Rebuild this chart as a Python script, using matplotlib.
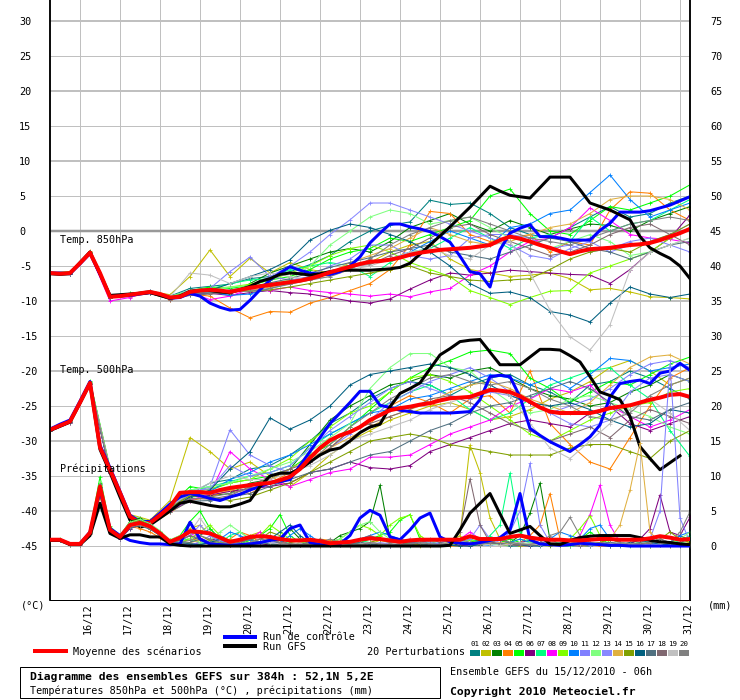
import matplotlib
matplotlib.use('Agg')
import matplotlib.pyplot as plt
from matplotlib.patches import Rectangle
import numpy as np

plt.rcParams['font.family'] = ['DejaVu Sans Mono', 'DejaVu Sans']

# heures depuis le 15/12/2010 06h
heures6 = np.arange(0, 385, 6)     # moyenne, controle, GFS, precip
heures12 = np.arange(0, 385, 12)   # temperatures des perturbations

jours = ['16/12', '17/12', '18/12', '19/12', '20/12', '21/12', '22/12', '23/12',
         '24/12', '25/12', '26/12', '27/12', '28/12', '29/12', '30/12', '31/12']
heures_jours = [18 + 24 * k for k in range(16)]

couleurs = ['#008080', '#c0c000', '#008000', '#ff8000', '#00ff00', '#800080', '#00ff80',
            '#ff00ff', '#80ff00', '#0080ff', '#8080ff', '#80ff80', '#8888ff', '#e0b040',
            '#80a000', '#006080', '#507080', '#806870', '#c0c0c0', '#808080']

# ---- moyenne / controle / GFS (pas de 6h) ----
moy850 = [-6.0, -6.1, -6.0, -4.6, -3.1, -6.0, -9.4, -9.3, -9.1, -8.9, -8.7, -9.0, -9.5,
          -9.4, -8.7, -8.5, -8.4, -8.5, -8.7, -8.4, -8.1, -7.9, -7.7, -7.5, -7.3, -7.1,
          -6.8, -6.4, -5.9, -5.5, -5.1, -4.7, -4.4, -4.3, -4.1, -3.8, -3.4, -3.1, -2.9,
          -2.7, -2.6, -2.5, -2.4, -2.2, -2.0, -1.3, -0.8, -1.1, -1.5, -2.0, -2.4, -2.9,
          -3.3, -2.9, -2.6, -2.5, -2.4, -2.2, -2.0, -1.9, -1.7, -1.3, -0.8, -0.3, 0.3]
gfs850 = [-6.1, -6.2, -6.1, -4.5, -3.0, -6.1, -9.2, -9.1, -9.0, -8.9, -8.8, -9.2, -9.6,
          -9.3, -8.6, -8.5, -8.5, -8.7, -8.8, -8.4, -7.9, -7.2, -6.8, -6.2, -6.0, -6.1,
          -6.3, -6.1, -5.8, -5.6, -5.6, -5.6, -5.6, -5.5, -5.4, -5.2, -4.6, -3.3, -2.0,
          -0.7, 0.6, 2.0, 3.4, 4.9, 6.4, 5.7, 5.1, 4.9, 4.7, 6.2, 7.7, 7.7,
          7.7, 5.9, 4.0, 3.5, 3.0, 2.3, 1.6, -0.8, -2.4, -3.2, -3.9, -5.0, -6.8]
ctl850 = [-6.0, -6.0, -6.1, -4.7, -3.2, -6.2, -9.3, -9.3, -9.2, -9.0, -8.8, -9.1, -9.6,
          -9.5, -8.9, -9.3, -10.3, -10.9, -11.3, -11.2, -9.9, -8.4, -7.0, -6.0, -5.1, -5.6,
          -6.0, -6.2, -6.2, -5.8, -5.0, -3.7, -1.7, -0.3, 1.0, 1.0, 0.6, 0.3, -0.1,
          -0.8, -1.6, -3.6, -5.8, -6.1, -8.0, -2.7, -0.3, 0.4, 0.9, -0.8, -0.8, -1.0,
          -1.3, -1.3, -1.3, 0.1, 1.1, 2.7, 2.7, 2.7, 2.9, 3.3, 3.7, 4.3, 4.9]

moy500 = [-28.4, -27.8, -27.2, -24.5, -21.7, -30.9, -34.1, -37.4, -40.8, -41.7, -41.7, -40.6, -39.4,
          -37.4, -37.3, -37.3, -37.4, -37.0, -36.7, -36.5, -36.3, -36.1, -36.0, -35.6, -35.1, -34.0,
          -32.4, -31.0, -29.9, -29.2, -28.7, -28.0, -27.0, -26.3, -25.6, -25.3, -25.1, -24.8, -24.6,
          -24.2, -23.9, -23.8, -23.7, -23.2, -22.7, -22.8, -23.0, -23.6, -24.4, -25.2, -25.8, -26.0,
          -26.0, -26.0, -26.0, -25.7, -25.3, -25.1, -24.9, -24.5, -24.1, -23.8, -23.4, -23.3, -23.7]
gfs500 = [-28.5, -27.9, -27.3, -24.6, -21.8, -31.2, -34.5, -38.0, -41.3, -42.3, -42.0, -41.0, -40.0,
          -38.9, -38.6, -38.9, -39.2, -39.4, -39.4, -39.0, -38.5, -36.5, -35.0, -34.6, -34.6, -34.0,
          -33.0, -32.0, -31.3, -31.0, -30.0, -28.8, -28.0, -27.6, -25.1, -23.2, -22.5, -21.7, -19.7,
          -17.7, -16.8, -15.8, -15.6, -15.5, -17.3, -19.1, -19.1, -19.1, -18.0, -16.9, -16.9, -17.0,
          -17.8, -18.7, -20.8, -23.0, -23.5, -24.1, -26.5, -30.8, -32.5, -34.1, -33.1, -32.1, np.nan]
ctl500 = [-28.3, -27.6, -27.0, -24.3, -21.5, -30.6, -33.8, -37.2, -40.6, -41.5, -41.5, -40.3, -39.0,
          -38.0, -37.5, -37.8, -38.2, -38.5, -38.0, -37.6, -37.0, -36.5, -36.0, -35.8, -35.5, -33.5,
          -31.5, -29.5, -27.5, -26.0, -24.5, -22.9, -22.9, -24.9, -25.2, -25.6, -25.8, -26.0, -26.0,
          -26.0, -26.0, -25.9, -25.8, -24.1, -20.8, -20.6, -20.8, -23.7, -28.2, -29.2, -30.1, -30.8,
          -31.5, -30.5, -29.4, -27.7, -23.7, -21.8, -21.5, -21.3, -21.8, -20.3, -20.0, -18.9, -19.9]

moyPrec = [0.9, 0.9, 0.3, 0.3, 1.9, 8.5, 2.3, 1.3, 3.0, 3.3, 2.8, 1.8, 0.6,
           1.2, 2.1, 2.0, 1.8, 1.2, 0.6, 0.9, 1.3, 1.4, 1.3, 1.0, 0.8, 0.8,
           0.9, 0.7, 0.4, 0.5, 0.6, 0.9, 1.1, 1.0, 0.8, 0.6, 0.8, 0.9, 0.9,
           0.9, 0.9, 0.9, 1.4, 1.0, 1.0, 1.0, 1.3, 1.5, 1.2, 1.0, 0.9, 0.9,
           0.8, 0.8, 0.9, 1.0, 1.0, 0.9, 0.9, 0.9, 1.1, 1.4, 1.2, 0.9, 1.0]
gfsPrec = [0.8, 0.8, 0.2, 0.2, 1.5, 6.1, 1.8, 1.1, 1.6, 1.6, 1.3, 1.3, 0.3,
           0.1, 0.0, 0.0, 0.0, 0.0, 0.0, 0.0, 0.0, 0.0, 0.0, 0.0, 0.0, 0.0,
           0.0, 0.0, 0.0, 0.0, 0.0, 0.0, 0.0, 0.0, 0.0, 0.0, 0.0, 0.0, 0.0,
           0.0, 0.1, 2.3, 4.7, 6.1, 7.5, 4.6, 1.8, 2.3, 2.8, 1.5, 0.3, 0.2,
           0.8, 1.2, 1.4, 1.5, 1.5, 1.5, 1.5, 1.2, 0.8, 0.6, 0.5, 0.3, 0.2]
ctlPrec = [0.9, 0.9, 0.3, 0.3, 2.0, 8.0, 2.5, 1.5, 0.8, 0.5, 0.3, 0.3, 0.2,
           0.3, 3.4, 1.0, 0.3, 0.2, 0.1, 0.2, 0.3, 0.5, 0.8, 1.0, 2.5, 3.0,
           0.5, 0.2, 0.1, 0.3, 1.5, 4.0, 5.1, 4.4, 1.3, 0.9, 2.3, 4.0, 4.7,
           1.3, 0.6, 0.4, 0.3, 0.5, 0.8, 1.2, 2.3, 7.5, 0.9, 0.3, 0.2, 0.1,
           0.2, 0.4, 0.3, 0.2, 0.1, 0.1, 0.0, 0.0, 0.0, 0.0, 0.0, 0.0, 0.0]

# ---- perturbations 850hPa (pas de 12h) ----
p01_850 = [-6.1, -5.9, -3.3, -9.6, -9.0, -8.5, -9.3, -8.2, -7.9, -7.6, -6.8,
           -6.5, -5.8, -4.8, -3.5, -1.5, 0.0, 0.8, 1.3, 4.4, 3.8, 4.0,
           2.5, 0.5, -0.5, -1.0, 0.5, 2.0, 3.5, 2.0, 2.5, 4.0, 5.0]
p02_850 = [-6.0, -6.2, -3.0, -9.2, -9.3, -8.6, -9.1, -6.5, -2.7, -6.5, -3.9,
           -6.0, -4.5, -5.5, -6.0, -5.0, -4.5, -3.0, -2.0, -1.5, -4.0, -5.5,
           -6.0, -6.5, -6.3, -6.0, -6.8, -8.4, -8.2, -8.7, -9.4, -9.5, -9.7]
p03_850 = [-5.9, -6.1, -3.2, -9.5, -9.2, -8.8, -9.6, -8.9, -8.6, -9.0, -7.5,
           -6.0, -5.0, -4.0, -3.0, -2.5, -3.0, -1.5, 0.5, 1.5, 2.5, 1.0,
           0.0, 1.5, 0.5, -0.5, 0.3, 1.0, 0.8, 0.0, 1.5, 2.5, 3.5]
p04_850 = [-6.2, -6.0, -2.8, -9.2, -9.4, -8.9, -9.8, -9.0, -9.3, -11.0, -12.4,
           -11.5, -11.6, -10.3, -9.5, -8.5, -7.5, -5.5, -2.0, 2.8, 2.5, -0.5,
           -1.5, -1.0, -0.5, -3.0, -1.5, -2.0, 3.0, 5.6, 5.4, 3.0, 1.5]
p05_850 = [-6.0, -5.8, -3.0, -9.3, -8.9, -8.6, -9.4, -8.5, -8.0, -8.2, -7.8,
           -7.0, -6.5, -5.5, -4.0, -3.0, -2.5, -1.0, -1.5, -0.5, 0.5, 1.5,
           5.0, 6.0, 2.5, 0.0, -0.5, 1.5, 3.5, 3.0, 4.0, 5.0, 6.6]
p06_850 = [-6.1, -6.1, -3.2, -9.4, -9.1, -8.8, -9.7, -9.0, -8.9, -9.2, -8.8,
           -8.5, -8.8, -9.0, -9.5, -10.0, -10.3, -9.7, -8.3, -7.0, -6.0, -6.3,
           -6.0, -5.6, -5.8, -6.0, -6.2, -6.3, -7.5, -5.5, -3.0, -1.0, 2.3]
p07_850 = [-5.9, -6.0, -3.1, -9.3, -9.0, -8.7, -9.4, -8.8, -8.3, -7.5, -7.0,
           -6.8, -5.5, -5.0, -4.5, -5.0, -6.5, -4.5, -3.0, -2.5, -1.0, 0.5,
           -1.0, -2.5, -1.0, -0.5, -1.5, 2.0, 0.0, 1.0, 1.5, 3.0, 4.5]
p08_850 = [-6.0, -6.1, -3.3, -10.0, -9.5, -8.6, -9.3, -8.8, -9.8, -9.3, -8.3,
           -8.5, -8.0, -8.5, -8.8, -9.0, -9.3, -9.0, -9.4, -8.7, -8.2, -6.3,
           -5.0, -3.0, -1.5, -1.0, 0.5, 3.3, 1.5, -0.5, -1.0, -1.2, -1.7]
p09_850 = [-6.0, -5.9, -3.0, -9.3, -9.2, -8.9, -9.5, -8.6, -8.2, -8.0, -7.6,
           -7.0, -6.0, -5.0, -3.5, -2.5, -2.0, -3.0, -4.5, -5.5, -6.5, -8.5,
           -9.5, -10.5, -9.5, -8.6, -8.5, -6.0, -5.0, -4.0, -3.0, -1.0, 0.5]
p10_850 = [-6.1, -6.0, -3.1, -9.5, -9.1, -8.7, -9.6, -8.9, -8.7, -9.2, -9.0,
           -8.2, -7.5, -6.5, -5.8, -5.0, -4.3, -4.0, -3.0, -1.5, 0.0, -1.0,
           -2.0, 0.5, 1.0, 2.5, 3.0, 5.5, 8.0, 4.5, 2.0, 3.0, 4.0]
p11_850 = [-6.0, -6.1, -3.0, -9.4, -9.0, -8.7, -9.4, -8.5, -8.2, -5.8, -3.7,
           -6.5, -7.0, -6.5, -5.0, -4.0, -2.0, -2.0, -3.5, -4.0, -3.5, -1.0,
           -0.5, -0.5, -1.0, -2.5, -2.0, -3.0, -2.5, -1.5, -1.0, -2.0, -3.0]
p12_850 = [-5.9, -6.0, -3.0, -9.2, -9.0, -8.6, -9.3, -8.6, -8.4, -8.0, -7.8,
           -7.5, -7.0, -5.0, -2.0, 0.0, 2.0, 3.0, 2.5, 1.0, 1.5, 2.0,
           0.5, -1.0, -1.5, -2.5, -1.5, -0.5, -1.5, -3.5, -3.0, -2.0, -1.0]
p13_850 = [-6.0, -6.0, -3.2, -9.3, -9.1, -8.6, -9.5, -8.7, -8.5, -8.8, -8.0,
           -6.5, -5.0, -3.0, -0.5, 1.6, 4.0, 4.0, 3.0, 2.0, 1.0, 0.0,
           -1.0, -2.0, -3.5, -4.0, -2.5, -1.5, -3.0, -2.0, -1.5, -0.5, 1.0]
p14_850 = [-6.1, -6.0, -3.1, -9.4, -9.2, -8.8, -9.5, -8.8, -8.6, -8.7, -8.5,
           -8.0, -7.5, -7.0, -6.0, -4.5, -3.5, -2.5, -1.0, 0.5, -0.5, -1.5,
           -2.0, -1.5, -0.5, 0.5, 1.0, 2.5, 4.5, 5.0, 5.0, 4.5, 3.0]
p15_850 = [-6.0, -6.0, -3.0, -9.4, -9.1, -8.8, -9.4, -8.7, -8.6, -8.5, -8.6,
           -8.4, -8.0, -7.5, -7.0, -6.5, -6.0, -5.5, -5.0, -6.0, -6.5, -7.0,
           -7.2, -7.0, -6.8, -5.5, -4.0, -3.0, -2.5, -3.0, -1.5, -0.5, 1.0]
p16_850 = [-6.0, -6.1, -3.1, -9.5, -9.1, -8.7, -9.6, -8.8, -8.5, -7.5, -6.5,
           -5.5, -4.1, -1.3, 0.1, 1.0, 0.5, -0.5, -1.5, -3.0, -5.0, -7.5,
           -8.9, -8.7, -9.5, -11.5, -12.0, -13.0, -10.3, -8.0, -9.0, -9.5, -9.0]
p17_850 = [-6.1, -6.0, -3.2, -9.4, -9.2, -8.9, -9.7, -9.1, -8.9, -8.4, -8.0,
           -7.4, -6.8, -6.0, -5.2, -4.5, -3.8, -3.0, -2.5, -2.0, -3.0, -3.5,
           -4.0, -3.0, -2.0, -1.0, -1.5, -2.5, -3.0, -4.0, -3.0, -2.0, -1.5]
p18_850 = [-6.0, -6.1, -3.0, -9.5, -9.3, -8.8, -9.8, -9.2, -9.0, -8.8, -8.2,
           -7.8, -7.2, -6.5, -6.0, -5.0, -4.8, -3.5, -2.5, -1.0, 0.5, 1.0,
           -0.5, -1.5, -2.5, -3.5, -3.0, -2.0, -0.5, 0.5, 1.0, -0.5, -2.0]
p19_850 = [-6.0, -6.0, -3.1, -9.3, -9.1, -8.7, -9.4, -6.0, -6.3, -7.5, -6.5,
           -6.0, -6.5, -7.0, -6.5, -5.5, -5.0, -4.0, -3.0, -2.5, -3.5, -4.0,
           -2.0, -1.5, -6.0, -11.3, -15.1, -17.0, -13.4, -5.6, -3.0, -2.0, -1.0]
p20_850 = [-6.1, -5.9, -3.1, -9.4, -9.0, -8.8, -9.6, -8.9, -8.8, -8.5, -8.6,
           -8.2, -7.6, -7.0, -6.5, -5.5, -4.0, -2.0, -0.5, 0.5, 1.5, 2.0,
           1.0, 0.0, -1.0, -1.5, -2.0, -1.0, 0.0, 1.0, 1.5, 2.0, 1.5]

# ---- perturbations 500hPa (pas de 12h) ----
p01_500 = [-28.5, -27.3, -21.9, -34.5, -41.0, -41.5, -39.0, -37.5, -36.0, -35.5, -34.0,
           -33.5, -32.0, -30.0, -27.5, -26.0, -24.0, -22.5, -21.5, -22.0, -23.5, -22.0,
           -21.0, -20.5, -22.0, -23.0, -24.5, -22.0, -21.5, -20.0, -21.0, -22.5, -24.0]
p02_500 = [-28.4, -27.0, -21.6, -34.0, -40.5, -41.3, -38.5, -29.5, -31.5, -34.0, -33.0,
           -35.0, -36.5, -34.5, -32.0, -30.0, -28.5, -27.0, -26.0, -25.0, -24.5, -25.5,
           -27.0, -26.5, -25.5, -24.0, -23.0, -21.5, -19.5, -18.5, -20.0, -22.0, -21.0]
p03_500 = [-28.2, -27.1, -21.5, -34.2, -40.9, -41.9, -39.8, -38.0, -37.8, -37.5, -36.0,
           -35.5, -34.0, -30.5, -27.0, -25.0, -23.5, -22.0, -21.5, -20.5, -21.0, -20.0,
           -19.5, -21.0, -22.5, -23.5, -24.0, -25.0, -24.5, -23.0, -22.0, -20.5, -21.5]
p04_500 = [-28.5, -27.4, -21.8, -34.4, -41.1, -42.0, -40.2, -38.5, -38.0, -37.0, -37.5,
           -36.0, -34.5, -33.0, -31.0, -28.5, -27.5, -25.0, -23.5, -24.5, -26.0, -24.0,
           -23.5, -26.0, -20.0, -27.5, -30.5, -33.0, -34.0, -29.5, -25.0, -21.0, -19.5]
p05_500 = [-28.3, -27.0, -21.4, -33.8, -40.6, -41.6, -39.2, -36.5, -37.0, -36.0, -35.5,
           -35.0, -34.0, -32.0, -30.5, -28.0, -25.5, -23.0, -21.0, -19.5, -18.5, -17.3,
           -17.0, -17.5, -21.0, -22.5, -24.5, -23.0, -21.5, -22.0, -20.5, -19.0, -18.0]
p06_500 = [-28.5, -27.3, -21.9, -34.3, -41.0, -41.9, -39.7, -37.8, -37.7, -37.2, -36.8,
           -36.5, -36.0, -34.5, -34.0, -33.0, -33.8, -34.0, -33.5, -31.5, -30.5, -29.5,
           -28.5, -27.5, -27.0, -27.5, -28.0, -26.0, -25.0, -27.5, -28.5, -27.5, -26.5]
p07_500 = [-28.4, -27.2, -21.7, -34.1, -40.7, -41.6, -39.3, -37.0, -36.5, -35.8, -35.0,
           -34.5, -33.5, -31.0, -29.0, -27.5, -26.0, -24.5, -23.0, -22.0, -23.5, -25.5,
           -27.0, -26.0, -24.0, -22.0, -21.0, -20.0, -19.5, -22.0, -24.0, -28.5, -32.2]
p08_500 = [-28.6, -27.4, -21.8, -34.5, -41.2, -42.0, -40.0, -38.5, -37.5, -31.5, -34.0,
           -35.5, -36.5, -35.5, -34.5, -34.0, -32.3, -32.3, -32.0, -30.5, -29.0, -28.0,
           -27.0, -25.0, -24.0, -22.5, -23.0, -22.0, -25.0, -26.5, -28.0, -27.0, -25.5]
p09_500 = [-28.3, -27.1, -21.6, -34.0, -40.7, -41.5, -39.5, -37.5, -36.8, -36.0, -35.5,
           -34.0, -32.5, -30.0, -28.0, -26.0, -25.0, -23.0, -21.0, -20.5, -21.5, -23.0,
           -25.0, -27.0, -29.0, -30.0, -28.5, -27.0, -26.0, -25.0, -24.5, -23.0, -22.5]
p10_500 = [-28.4, -27.3, -21.8, -34.2, -40.9, -41.8, -39.6, -37.8, -37.2, -35.5, -34.5,
           -33.0, -32.0, -30.5, -29.0, -27.5, -26.0, -25.5, -24.0, -23.5, -22.5, -21.5,
           -20.5, -21.0, -22.0, -21.0, -22.5, -20.5, -18.2, -18.5, -20.0, -19.5, -19.0]
p11_500 = [-28.5, -27.2, -21.7, -34.3, -41.0, -41.7, -39.5, -37.6, -36.5, -28.4, -32.0,
           -33.5, -34.5, -33.0, -31.0, -29.0, -27.0, -24.5, -23.0, -21.5, -20.5, -19.5,
           -21.0, -23.0, -24.5, -26.0, -25.0, -24.0, -22.5, -20.5, -19.0, -18.5, -19.5]
p12_500 = [-28.3, -27.1, -21.6, -34.0, -40.6, -41.5, -39.1, -37.0, -36.5, -36.0, -35.0,
           -34.0, -33.0, -31.5, -29.5, -27.5, -22.5, -19.5, -17.5, -17.5, -19.5, -20.0,
           -22.5, -24.5, -26.0, -25.5, -24.0, -23.5, -24.5, -25.5, -26.5, -28.0, -29.0]
p13_500 = [-28.4, -27.2, -21.7, -34.1, -40.8, -41.6, -39.4, -37.2, -36.8, -33.5, -35.0,
           -34.5, -33.5, -31.0, -28.5, -26.5, -24.5, -22.5, -21.5, -22.5, -23.5, -24.0,
           -23.0, -23.5, -24.5, -26.0, -27.5, -28.0, -27.0, -23.0, -21.0, -20.5, -21.5]
p14_500 = [-28.5, -27.3, -21.8, -34.2, -41.0, -41.8, -39.7, -37.8, -37.5, -37.0, -36.5,
           -35.5, -34.0, -32.5, -31.0, -29.5, -28.0, -26.5, -25.5, -24.5, -23.0, -22.0,
           -21.5, -22.5, -24.0, -25.0, -26.0, -24.5, -22.0, -19.5, -18.0, -17.7, -19.0]
p15_500 = [-28.4, -27.2, -21.7, -34.2, -40.9, -41.8, -39.5, -37.8, -38.0, -38.5, -38.0,
           -37.0, -36.0, -34.5, -33.0, -31.5, -30.0, -29.5, -29.0, -29.5, -30.5, -31.0,
           -31.5, -32.0, -32.0, -32.0, -31.0, -30.5, -30.5, -31.5, -32.5, -30.0, -28.5]
p16_500 = [-28.5, -27.3, -21.9, -34.4, -41.1, -41.9, -39.8, -38.0, -37.0, -34.0, -31.5,
           -26.7, -28.3, -27.0, -25.0, -22.0, -20.5, -20.0, -19.5, -19.0, -19.5, -20.5,
           -22.0, -23.5, -24.5, -25.0, -24.5, -25.5, -27.0, -28.0, -27.5, -25.5, -26.0]
p17_500 = [-28.6, -27.4, -21.9, -34.5, -41.2, -42.0, -40.1, -38.6, -38.5, -38.0, -37.5,
           -36.5, -35.5, -34.5, -34.0, -33.0, -32.0, -31.5, -30.0, -28.5, -27.5, -26.0,
           -25.0, -24.5, -23.5, -22.5, -21.5, -22.5, -24.5, -26.5, -27.0, -25.5, -24.5]
p18_500 = [-28.4, -27.2, -21.8, -34.1, -40.8, -41.7, -39.6, -38.2, -38.3, -37.8, -36.5,
           -35.0, -34.0, -33.0, -31.0, -28.5, -27.5, -26.5, -25.5, -24.0, -23.5, -24.5,
           -26.0, -27.5, -28.5, -30.0, -29.0, -28.0, -29.5, -27.0, -25.5, -26.5, -27.5]
p19_500 = [-28.3, -27.1, -21.6, -34.0, -40.7, -41.6, -39.3, -37.4, -36.0, -35.0, -35.5,
           -35.5, -34.5, -33.5, -32.0, -30.0, -29.0, -28.0, -27.0, -25.5, -24.5, -23.5,
           -22.5, -23.5, -27.5, -31.0, -32.5, -30.0, -27.5, -25.5, -24.0, -26.0, -28.5]
p20_500 = [-28.5, -27.3, -21.7, -34.3, -41.0, -41.9, -39.8, -38.3, -38.0, -37.5, -36.8,
           -36.0, -35.0, -33.0, -30.5, -28.0, -26.0, -24.0, -22.5, -21.0, -20.5, -21.5,
           -22.0, -21.5, -22.5, -24.0, -25.0, -26.5, -27.0, -26.0, -23.5, -22.0, -21.0]

# ---- perturbations precipitations (pas de 6h) ----
p01_pr = [0.8, 0.9, 0.2, 0.3, 1.8, 7.5, 2.0, 1.0, 2.5, 3.5, 3.0, 2.0, 0.5,
          0.3, 0.5, 1.5, 2.5, 1.0, 0.3, 0.2, 0.5, 1.0, 1.5, 0.8, 0.3, 0.2,
          0.1, 0.2, 0.5, 1.0, 0.5, 0.3, 0.2, 0.1, 0.0, 0.0, 0.2, 0.5, 0.3,
          0.2, 0.1, 0.0, 0.5, 1.0, 0.5, 0.2, 0.0, 0.0, 0.3, 0.5, 0.2, 0.1,
          0.0, 0.1, 0.3, 0.2, 0.0, 0.0, 0.2, 0.5, 0.3, 0.1, 0.0, 0.0, 0.2]
p02_pr = [0.9, 0.8, 0.3, 0.2, 2.0, 8.0, 2.5, 1.2, 3.0, 3.0, 2.5, 1.5, 0.8,
          1.0, 2.5, 3.0, 1.5, 0.5, 0.3, 0.5, 1.5, 2.0, 1.0, 0.5, 0.3, 0.2,
          0.3, 0.5, 0.2, 0.1, 0.0, 0.0, 0.3, 0.8, 0.5, 0.2, 0.1, 0.0, 0.2,
          0.3, 0.5, 1.5, 14.4, 10.5, 4.0, 1.0, 0.2, 0.0, 0.0, 0.3, 0.5, 0.2,
          0.1, 0.0, 0.0, 0.5, 1.0, 0.5, 0.2, 0.0, 0.0, 0.3, 0.2, 0.1, 0.0]
p03_pr = [0.9, 0.9, 0.3, 0.3, 1.9, 9.0, 2.0, 1.5, 3.5, 4.0, 3.0, 1.5, 0.5,
          0.8, 1.5, 1.0, 0.5, 0.3, 0.2, 0.5, 1.0, 0.5, 0.3, 0.5, 2.5, 1.0,
          0.3, 0.2, 0.5, 1.5, 2.0, 2.5, 3.5, 8.7, 1.0, 0.5, 0.3, 0.8, 0.5,
          0.2, 0.1, 0.3, 0.5, 0.8, 0.5, 0.3, 0.5, 1.5, 4.7, 9.0, 0.9, 0.3,
          0.2, 0.1, 0.0, 0.2, 0.5, 0.3, 0.2, 0.1, 0.0, 0.3, 0.5, 1.5, 0.8]
p04_pr = [0.8, 0.8, 0.2, 0.3, 1.7, 7.0, 2.2, 1.2, 2.8, 2.5, 2.0, 1.2, 0.4,
          0.5, 1.0, 0.8, 0.5, 0.3, 1.0, 2.0, 1.5, 0.5, 0.2, 0.1, 0.0, 0.3,
          0.5, 1.0, 0.8, 0.3, 0.2, 0.1, 0.0, 0.2, 0.5, 0.8, 0.5, 0.3, 0.2,
          0.1, 0.0, 0.0, 0.2, 0.5, 0.3, 0.2, 0.1, 0.5, 1.5, 3.0, 7.5, 1.0,
          0.5, 0.3, 0.1, 0.0, 0.0, 0.2, 0.5, 0.3, 0.2, 0.1, 0.0, 0.2, 0.5]
p05_pr = [0.9, 1.0, 0.3, 0.3, 2.2, 9.9, 2.8, 1.5, 3.2, 3.6, 3.0, 2.0, 0.8,
          1.5, 3.5, 5.0, 2.5, 1.0, 0.5, 0.3, 0.8, 1.5, 2.5, 4.5, 1.5, 0.5,
          0.3, 0.2, 0.5, 0.3, 0.2, 0.5, 1.0, 1.5, 2.0, 3.7, 4.5, 1.0, 0.3,
          0.2, 0.5, 0.8, 0.5, 0.3, 0.2, 0.5, 1.0, 0.5, 0.2, 0.1, 0.3, 0.5,
          0.3, 1.0, 2.0, 1.0, 0.3, 0.1, 0.0, 0.2, 0.5, 0.3, 0.2, 0.5, 0.3]
p06_pr = [0.9, 0.9, 0.3, 0.2, 1.8, 8.0, 2.0, 1.0, 2.5, 3.0, 2.5, 1.5, 0.5,
          0.3, 0.2, 0.5, 1.0, 0.8, 0.5, 0.3, 0.2, 0.1, 0.3, 0.5, 0.3, 0.2,
          0.1, 0.0, 0.2, 0.5, 0.3, 0.2, 0.1, 0.0, 0.0, 0.2, 0.5, 0.8, 0.5,
          0.3, 0.2, 0.1, 0.0, 0.2, 0.5, 0.3, 0.2, 0.5, 0.8, 0.5, 0.2, 0.1,
          0.0, 0.2, 0.5, 0.3, 0.2, 0.1, 0.3, 1.0, 2.5, 7.3, 2.0, 1.5, 4.1]
p07_pr = [0.9, 0.9, 0.3, 0.3, 2.0, 8.8, 2.4, 1.4, 3.0, 3.2, 2.9, 1.9, 0.6,
          0.8, 1.0, 0.5, 0.3, 0.5, 1.5, 2.0, 1.0, 0.5, 0.3, 0.2, 0.5, 1.0,
          0.5, 0.3, 0.2, 0.1, 0.3, 0.8, 0.5, 0.3, 0.2, 0.1, 0.0, 0.2, 0.5,
          0.3, 0.2, 0.5, 1.0, 0.5, 1.5, 3.0, 10.4, 2.0, 0.5, 0.3, 0.2, 0.1,
          0.0, 0.1, 0.3, 0.5, 0.3, 0.2, 0.1, 0.0, 0.2, 0.5, 0.3, 0.8, 1.5]
p08_pr = [0.8, 0.9, 0.3, 0.3, 1.9, 8.2, 2.1, 1.3, 3.1, 3.0, 2.6, 1.7, 0.7,
          1.0, 1.8, 1.2, 0.5, 0.3, 0.2, 0.5, 1.0, 2.0, 1.0, 0.5, 0.3, 0.2,
          0.5, 0.3, 0.2, 0.1, 0.0, 0.2, 0.5, 0.3, 0.2, 0.5, 1.0, 0.5, 0.3,
          0.2, 0.3, 1.0, 2.0, 1.0, 0.5, 0.3, 0.2, 0.1, 0.0, 0.2, 0.5, 0.3,
          0.5, 1.5, 4.5, 8.7, 3.0, 0.5, 0.2, 0.1, 0.3, 0.5, 0.3, 0.2, 0.1]
p09_pr = [0.9, 0.8, 0.3, 0.3, 2.0, 8.6, 2.3, 1.4, 3.3, 3.5, 3.0, 2.0, 0.6,
          0.5, 1.0, 2.0, 3.0, 1.5, 0.8, 0.5, 1.0, 1.5, 3.0, 2.0, 1.0, 0.5,
          0.3, 0.2, 0.5, 1.0, 2.0, 3.0, 2.5, 1.5, 3.0, 4.0, 4.4, 1.5, 0.5,
          0.3, 0.2, 0.5, 0.8, 0.5, 0.3, 0.2, 0.5, 1.0, 0.5, 0.3, 0.2, 0.5,
          1.0, 2.5, 4.3, 1.5, 0.5, 0.3, 0.2, 0.5, 0.3, 0.2, 0.5, 1.0, 0.5]
p10_pr = [0.9, 0.9, 0.3, 0.3, 1.9, 8.4, 2.2, 1.3, 2.9, 3.2, 2.7, 1.8, 0.6,
          0.5, 0.3, 0.2, 0.5, 1.0, 2.0, 1.5, 0.8, 0.5, 0.3, 0.5, 1.5, 2.5,
          1.5, 0.5, 0.3, 0.2, 0.5, 1.0, 1.5, 2.0, 1.5, 1.0, 0.5, 0.3, 0.2,
          0.5, 0.8, 0.5, 0.3, 0.2, 0.1, 0.3, 0.5, 1.0, 0.5, 0.3, 1.0, 2.0,
          1.5, 1.0, 2.5, 3.0, 1.0, 0.5, 0.3, 0.2, 0.1, 0.3, 0.5, 1.5, 2.0]
p11_pr = [0.8, 0.9, 0.3, 0.3, 1.8, 7.8, 2.1, 1.1, 2.7, 3.1, 2.6, 1.6, 0.5,
          0.3, 0.2, 0.5, 1.5, 0.8, 0.3, 0.2, 0.1, 0.3, 0.5, 0.3, 0.2, 0.1,
          0.0, 0.2, 0.5, 0.3, 0.2, 0.1, 0.0, 0.2, 0.5, 1.0, 0.5, 0.3, 0.5,
          1.0, 0.5, 0.3, 0.2, 0.1, 0.3, 0.5, 2.0, 5.0, 11.8, 3.0, 0.5, 0.2,
          0.1, 0.0, 0.2, 0.5, 0.3, 0.2, 0.1, 0.3, 1.0, 5.0, 26.0, 4.0, 0.5]
p12_pr = [0.9, 0.8, 0.3, 0.3, 2.1, 9.2, 2.6, 1.6, 3.4, 3.8, 3.2, 2.2, 0.9,
          1.5, 1.0, 0.5, 0.8, 2.0, 3.0, 2.0, 1.0, 0.5, 0.3, 0.2, 0.5, 1.0,
          0.5, 0.3, 0.5, 1.0, 2.0, 3.0, 3.5, 2.0, 1.0, 0.5, 0.3, 0.2, 0.5,
          1.0, 0.5, 0.3, 0.2, 0.5, 0.3, 0.2, 0.1, 0.3, 0.5, 0.3, 0.2, 0.1,
          0.0, 0.2, 0.5, 0.3, 0.2, 0.1, 0.3, 0.5, 0.8, 0.5, 0.3, 1.0, 2.0]
p13_pr = [0.9, 0.9, 0.3, 0.3, 1.9, 8.3, 2.2, 1.3, 3.0, 3.3, 2.8, 1.8, 0.6,
          0.8, 1.5, 3.0, 1.5, 0.5, 0.3, 0.2, 0.5, 1.0, 0.5, 0.3, 0.2, 0.1,
          0.3, 0.5, 0.3, 0.2, 0.1, 0.0, 0.2, 0.5, 0.3, 0.2, 0.5, 1.0, 0.5,
          0.3, 0.2, 0.5, 1.0, 3.0, 1.0, 0.5, 0.3, 0.2, 0.1, 0.3, 0.5, 0.3,
          0.2, 0.1, 0.0, 0.2, 0.5, 0.3, 0.2, 0.1, 0.3, 0.5, 0.2, 0.1, 0.0]
p14_pr = [0.8, 0.9, 0.3, 0.3, 1.8, 7.6, 2.0, 1.2, 2.8, 3.0, 2.5, 1.6, 0.5,
          0.3, 0.5, 0.8, 0.5, 0.3, 0.2, 0.1, 0.3, 0.5, 1.0, 0.5, 0.3, 0.2,
          0.1, 0.0, 0.2, 0.5, 0.3, 0.2, 0.5, 1.0, 0.5, 0.3, 0.2, 0.1, 0.0,
          0.2, 0.5, 0.3, 0.2, 0.1, 0.3, 0.5, 0.3, 0.2, 0.1, 0.3, 0.5, 0.3,
          0.2, 0.1, 0.3, 0.5, 1.0, 3.0, 8.0, 14.7, 2.0, 0.5, 0.3, 0.2, 0.1]
p15_pr = [0.9, 0.9, 0.3, 0.3, 1.9, 8.7, 2.4, 1.4, 3.1, 3.4, 2.9, 1.9, 0.7,
          1.0, 2.0, 1.5, 0.8, 0.5, 0.3, 0.2, 0.5, 1.0, 2.0, 1.5, 0.5, 0.3,
          0.2, 0.1, 0.3, 0.5, 0.3, 0.2, 0.5, 1.0, 0.8, 0.5, 0.3, 0.2, 0.1,
          0.0, 0.2, 0.5, 0.3, 0.2, 0.5, 1.0, 0.5, 0.3, 0.2, 0.1, 0.0, 0.2,
          0.5, 0.3, 0.2, 0.5, 1.0, 0.5, 0.3, 0.2, 0.5, 1.0, 2.0, 1.0, 0.5]
p16_pr = [0.9, 0.9, 0.3, 0.3, 1.9, 8.5, 2.3, 1.3, 3.0, 3.3, 2.8, 1.8, 0.6,
          0.5, 0.3, 0.2, 0.5, 1.0, 0.5, 0.3, 0.2, 0.5, 1.0, 2.0, 3.0, 1.5,
          0.5, 0.3, 0.2, 0.1, 0.3, 0.5, 0.3, 0.2, 0.1, 0.0, 0.2, 0.5, 0.3,
          0.2, 0.1, 0.0, 0.0, 0.2, 0.5, 0.3, 0.2, 0.1, 0.0, 0.0, 0.2, 0.3,
          0.5, 0.3, 0.2, 0.1, 0.0, 0.2, 0.5, 0.8, 0.5, 0.3, 0.2, 0.1, 0.0]
p17_pr = [0.8, 0.8, 0.2, 0.3, 1.7, 7.2, 2.0, 1.1, 2.6, 2.9, 2.4, 1.5, 0.5,
          0.3, 0.5, 1.0, 0.5, 0.3, 0.2, 0.5, 1.0, 0.5, 0.3, 0.2, 0.1, 0.3,
          0.5, 1.0, 0.5, 0.3, 0.2, 0.5, 0.3, 0.2, 0.1, 0.3, 0.5, 0.3, 0.2,
          0.1, 0.3, 0.5, 0.3, 0.2, 0.5, 1.0, 0.5, 0.3, 0.2, 0.1, 0.3, 0.5,
          0.3, 0.2, 0.1, 0.3, 0.5, 0.3, 0.2, 0.5, 1.0, 0.5, 0.3, 0.5, 1.0]
p18_pr = [0.9, 0.9, 0.3, 0.3, 2.0, 8.9, 2.5, 1.4, 3.2, 3.5, 3.0, 2.0, 0.7,
          0.8, 1.5, 1.0, 0.5, 0.3, 0.2, 0.5, 1.0, 1.5, 1.0, 0.5, 0.3, 0.2,
          0.3, 0.5, 0.3, 0.2, 0.5, 1.0, 1.5, 1.0, 0.5, 0.3, 0.2, 0.5, 1.0,
          0.5, 0.3, 2.0, 9.6, 3.0, 0.5, 0.3, 0.2, 0.1, 0.3, 0.5, 0.3, 0.2,
          0.1, 0.0, 0.2, 0.5, 0.3, 0.2, 0.1, 0.3, 0.5, 1.0, 0.5, 0.3, 0.2]
p19_pr = [0.9, 0.9, 0.3, 0.3, 1.9, 8.1, 2.2, 1.2, 2.9, 3.1, 2.7, 1.7, 0.6,
          1.0, 2.0, 4.0, 2.0, 1.0, 0.5, 0.3, 0.5, 1.0, 0.5, 0.3, 0.2, 0.5,
          1.0, 0.5, 0.3, 0.2, 0.1, 0.3, 0.5, 0.3, 0.2, 0.5, 1.0, 0.5, 0.3,
          0.2, 0.5, 1.0, 0.5, 0.3, 0.2, 0.1, 0.3, 0.5, 0.3, 0.2, 0.5, 1.0,
          0.5, 0.3, 0.2, 0.1, 0.3, 0.5, 0.3, 0.2, 0.1, 0.3, 0.5, 0.3, 0.2]
p20_pr = [0.8, 0.9, 0.3, 0.3, 1.8, 8.0, 2.1, 1.2, 2.9, 3.2, 2.7, 1.7, 0.6,
          0.5, 0.8, 1.5, 1.0, 0.5, 0.3, 0.2, 0.5, 1.0, 0.8, 0.5, 0.3, 0.2,
          0.3, 0.5, 1.0, 0.5, 0.3, 0.2, 0.5, 0.3, 0.2, 0.1, 0.3, 0.5, 0.3,
          0.2, 0.5, 1.0, 0.5, 0.3, 0.5, 1.0, 0.5, 0.3, 0.2, 0.5, 1.5, 2.0,
          4.1, 1.5, 0.5, 0.3, 0.2, 0.5, 0.3, 0.2, 0.5, 1.0, 0.5, 2.0, 4.9]

pert850 = [p01_850, p02_850, p03_850, p04_850, p05_850, p06_850, p07_850, p08_850, p09_850, p10_850,
           p11_850, p12_850, p13_850, p14_850, p15_850, p16_850, p17_850, p18_850, p19_850, p20_850]
pert500 = [p01_500, p02_500, p03_500, p04_500, p05_500, p06_500, p07_500, p08_500, p09_500, p10_500,
           p11_500, p12_500, p13_500, p14_500, p15_500, p16_500, p17_500, p18_500, p19_500, p20_500]
pertPr = [p01_pr, p02_pr, p03_pr, p04_pr, p05_pr, p06_pr, p07_pr, p08_pr, p09_pr, p10_pr,
          p11_pr, p12_pr, p13_pr, p14_pr, p15_pr, p16_pr, p17_pr, p18_pr, p19_pr, p20_pr]

# ---------------- figure ----------------
PX = 0.72  # 1 pixel en points (dpi 100)
fs = 7.3

fig = plt.figure(figsize=(7.4, 7.0), dpi=100)
ax = fig.add_axes([50 / 740, 100 / 700, 640 / 740, 600 / 700])
ax.set_xlim(0, 384)
ax.set_ylim(-52.71, 33.0)
ax2 = ax.twinx()
ax2.set_ylim(-52.71 + 45, 33.0 + 45)

# grille
for h in heures_jours:
    ax.axvline(h, color='#c0c0c0', lw=1 * PX, zorder=0)
for t in range(-45, 31, 5):
    if t == 0:
        ax.axhline(t, color='#999999', lw=2.5 * PX, zorder=0)
    elif t % 10 == 0:
        ax.axhline(t, color='#c0c0c0', lw=2 * PX, zorder=0)
    else:
        ax.axhline(t, color='#c0c0c0', lw=1 * PX, zorder=0)

# perturbations
for k in range(20):
    c = couleurs[k]
    ax.plot(heures12, pert850[k], color=c, lw=0.75, marker='+', ms=3, mew=0.6, zorder=2)
    ax.plot(heures12, pert500[k], color=c, lw=0.75, marker='+', ms=3, mew=0.6, zorder=2)
    ax2.plot(heures6, pertPr[k], color=c, lw=0.75, marker='+', ms=2.5, mew=0.5, zorder=2)

# controle, GFS, moyenne
ax.plot(heures6, ctl850, color='#0000ff', lw=3 * PX, zorder=3)
ax.plot(heures6, ctl500, color='#0000ff', lw=3 * PX, zorder=3)
ax.plot(heures6, gfs850, color='black', lw=3 * PX, zorder=4)
ax.plot(heures6, gfs500, color='black', lw=3 * PX, zorder=4)
ax.plot(heures6, moy850, color='#ff0000', lw=4 * PX, zorder=5)
ax.plot(heures6, moy500, color='#ff0000', lw=4 * PX, zorder=5)
ax2.plot(heures6, ctlPrec, color='#0000ff', lw=3 * PX, zorder=3)
ax2.plot(heures6, gfsPrec, color='black', lw=3 * PX, zorder=4)
ax2.plot(heures6, moyPrec, color='#ff0000', lw=4 * PX, zorder=5)

# axes
ax.set_xticks([])
ax.set_yticks(range(-45, 31, 5))
ax.set_yticklabels([str(v) for v in range(-45, 31, 5)])
ax.tick_params(axis='y', length=0, pad=22.3, labelsize=fs)
for lab in ax.get_yticklabels():
    lab.set_horizontalalignment('left')
ax2.set_yticks(range(0, 76, 5))
ax2.set_yticklabels([str(v) for v in range(0, 76, 5)])
ax2.tick_params(axis='y', length=0, pad=14.4, labelsize=fs)
for a in (ax, ax2):
    a.spines['top'].set_visible(False)
    a.spines['left'].set_linewidth(1.5 * PX)
    a.spines['right'].set_linewidth(1.5 * PX)
    a.spines['bottom'].set_linewidth(1 * PX)

for h, j in zip(heures_jours, jours):
    ax.text(h + 4.8, -0.006, j, transform=ax.get_xaxis_transform(), rotation=90,
            ha='center', va='top', fontsize=fs)

# textes et legende en pixels
axf = fig.add_axes([0, 0, 1, 1], facecolor='none')
axf.set_xlim(0, 740)
axf.set_ylim(700, 0)
axf.axis('off')

axf.text(60, 240, 'Temp. 850hPa', fontsize=fs, va='center')
axf.text(60, 370, 'Temp. 500hPa', fontsize=fs, va='center')
axf.text(60, 469, 'Précipitations', fontsize=fs, va='center')
axf.text(21, 606, '(°C)', fontsize=fs, va='center')
axf.text(708, 606, '(mm)', fontsize=fs, va='center')

axf.plot([35, 66], [651, 651], color='#ff0000', lw=4 * PX)
axf.text(73, 652, 'Moyenne des scénarios', fontsize=fs, va='center')
axf.plot([225, 255], [637, 637], color='#0000ff', lw=4 * PX)
axf.text(263, 637, 'Run de contrôle', fontsize=fs, va='center')
axf.plot([225, 255], [646, 646], color='black', lw=4 * PX)
axf.text(263, 647, 'Run GFS', fontsize=fs, va='center')
axf.text(367, 652, '20 Perturbations', fontsize=fs, va='center')
for k in range(20):
    x0 = 470 + 11 * k
    axf.add_patch(Rectangle((x0, 650), 10, 6, color=couleurs[k], lw=0))
    axf.text(x0 + 5, 644, '%02d' % (k + 1), fontsize=5.3, ha='center', va='center')

axf.add_patch(Rectangle((20, 667), 420, 31, fill=False, edgecolor='black', lw=1 * PX))
axf.text(30, 677, 'Diagramme des ensembles GEFS sur 384h : 52,1N 5,2E',
         fontsize=8.2, fontweight='bold', va='center')
axf.text(30, 691, 'Températures 850hPa et 500hPa (°C) , précipitations (mm)',
         fontsize=fs, va='center')
axf.text(450, 672, 'Ensemble GEFS du 15/12/2010 - 06h', fontsize=fs, va='center')
axf.text(450, 692, 'Copyright 2010 Meteociel.fr', fontsize=8.2, fontweight='bold', va='center')

fig.savefig('out.png', dpi=100)
